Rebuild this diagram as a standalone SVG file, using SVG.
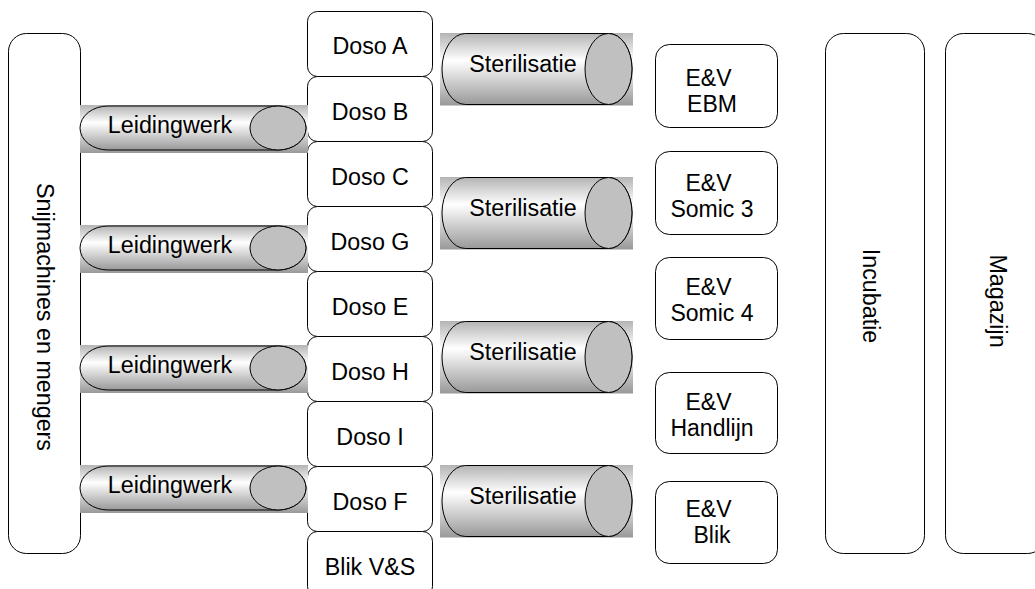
<svg xmlns="http://www.w3.org/2000/svg" width="1035" height="589" viewBox="0 0 1035 589">
<style>
.box{fill:#fff;stroke:#000;stroke-width:1}
.t{font-family:"Liberation Sans",Arial,sans-serif;font-size:23.3px;fill:#000;text-anchor:middle}
.e{font-size:23px}
.cyl{fill:url(#g);stroke:#000;stroke-width:1}
.bg{fill:url(#g);stroke:none}
.end{fill:#c0c0c0;stroke:#000;stroke-width:1}
</style>
<defs>
<linearGradient id="g" x1="0" y1="0" x2="0" y2="1">
<stop offset="0" stop-color="#b4b4b4"/>
<stop offset="0.38" stop-color="#ffffff"/>
<stop offset="1" stop-color="#999999"/>
</linearGradient>
</defs>
<rect width="1035" height="589" fill="#fff"/>
<g id="snijmachines">
<rect class="box" x="8.5" y="33.5" width="72" height="520" rx="18" ry="18"/>
<text class="t" transform="translate(37,317) rotate(90)">Snijmachines en mengers</text>
</g>
<g id="incubatie">
<rect class="box" x="825.5" y="33.5" width="99" height="520" rx="18" ry="18"/>
<text class="t" transform="translate(863,296) rotate(90)">Incubatie</text>
</g>
<g id="magazijn">
<rect class="box" x="945.5" y="33.5" width="100" height="520" rx="18" ry="18"/>
<text class="t" transform="translate(990,301) rotate(90)">Magazijn</text>
</g>
<g id="doso-a"><rect class="box" x="307.5" y="11.5" width="125" height="65" rx="10"/><text class="t" x="370" y="54">Doso A</text></g>
<g id="doso-b"><rect class="box" x="307.5" y="76.5" width="125" height="65" rx="10"/><text class="t" x="370" y="120">Doso B</text></g>
<g id="doso-c"><rect class="box" x="307.5" y="141.5" width="125" height="65" rx="10"/><text class="t" x="370" y="185">Doso C</text></g>
<g id="doso-g"><rect class="box" x="307.5" y="206.5" width="125" height="65" rx="10"/><text class="t" x="370" y="250">Doso G</text></g>
<g id="doso-e"><rect class="box" x="307.5" y="271.5" width="125" height="65" rx="10"/><text class="t" x="370" y="315">Doso E</text></g>
<g id="doso-h"><rect class="box" x="307.5" y="336.5" width="125" height="65" rx="10"/><text class="t" x="370" y="380">Doso H</text></g>
<g id="doso-i"><rect class="box" x="307.5" y="401.5" width="125" height="65" rx="10"/><text class="t" x="370" y="445">Doso I</text></g>
<g id="doso-f"><rect class="box" x="307.5" y="466.5" width="125" height="65" rx="10"/><text class="t" x="370" y="510">Doso F</text></g>
<g id="blik-vs"><rect class="box" x="307.5" y="531.5" width="125" height="65" rx="10"/><text class="t" x="370" y="575">Blik V&amp;S</text></g>
<g id="ev-ebm"><rect class="box" x="655.5" y="44.5" width="122" height="83" rx="14"/><text class="t e" x="708.5" y="86">E&amp;V</text><text class="t e" x="712" y="112">EBM</text></g>
<g id="ev-somic3"><rect class="box" x="655.5" y="151.5" width="122" height="83" rx="14"/><text class="t e" x="708.5" y="191">E&amp;V</text><text class="t e" x="712" y="217">Somic 3</text></g>
<g id="ev-somic4"><rect class="box" x="655.5" y="257.5" width="122" height="82" rx="14"/><text class="t e" x="708.5" y="295">E&amp;V</text><text class="t e" x="712" y="321">Somic 4</text></g>
<g id="ev-handlijn"><rect class="box" x="655.5" y="372.5" width="122" height="81" rx="14"/><text class="t e" x="708.5" y="410">E&amp;V</text><text class="t e" x="712" y="436">Handlijn</text></g>
<g id="ev-blik"><rect class="box" x="655.5" y="481.5" width="122" height="82" rx="14"/><text class="t e" x="708.5" y="517">E&amp;V</text><text class="t e" x="712" y="543">Blik</text></g>
<g id="leidingwerk-1" transform="translate(0,0)">
<rect class="bg" x="80" y="105" width="228" height="48"/>
<path class="cyl" d="M108,106 H278 A28 22 0 0 1 278 150 H108 A28 22 0 0 1 108 106 Z"/>
<ellipse class="end" cx="278" cy="128" rx="28" ry="22"/>
<text class="t" x="170" y="133">Leidingwerk</text>
</g>
<g id="leidingwerk-2" transform="translate(0,120)">
<rect class="bg" x="80" y="105" width="228" height="48"/>
<path class="cyl" d="M108,106 H278 A28 22 0 0 1 278 150 H108 A28 22 0 0 1 108 106 Z"/>
<ellipse class="end" cx="278" cy="128" rx="28" ry="22"/>
<text class="t" x="170" y="133">Leidingwerk</text>
</g>
<g id="leidingwerk-3" transform="translate(0,240)">
<rect class="bg" x="80" y="105" width="228" height="48"/>
<path class="cyl" d="M108,106 H278 A28 22 0 0 1 278 150 H108 A28 22 0 0 1 108 106 Z"/>
<ellipse class="end" cx="278" cy="128" rx="28" ry="22"/>
<text class="t" x="170" y="133">Leidingwerk</text>
</g>
<g id="leidingwerk-4" transform="translate(0,360)">
<rect class="bg" x="80" y="105" width="228" height="48"/>
<path class="cyl" d="M108,106 H278 A28 22 0 0 1 278 150 H108 A28 22 0 0 1 108 106 Z"/>
<ellipse class="end" cx="278" cy="128" rx="28" ry="22"/>
<text class="t" x="170" y="133">Leidingwerk</text>
</g>
<g id="sterilisatie-1" transform="translate(0,0)">
<rect class="bg" x="440" y="33" width="193" height="72.5"/>
<path class="cyl" d="M465.5,33.5 H608.5 A23.5 35.5 0 0 1 608.5 104.5 H465.5 A23.5 35.5 0 0 1 465.5 33.5 Z"/>
<ellipse class="end" cx="608.5" cy="69" rx="23.5" ry="35.5"/>
<text class="t" x="523" y="71.5">Sterilisatie</text>
</g>
<g id="sterilisatie-2" transform="translate(0,144)">
<rect class="bg" x="440" y="33" width="193" height="72.5"/>
<path class="cyl" d="M465.5,33.5 H608.5 A23.5 35.5 0 0 1 608.5 104.5 H465.5 A23.5 35.5 0 0 1 465.5 33.5 Z"/>
<ellipse class="end" cx="608.5" cy="69" rx="23.5" ry="35.5"/>
<text class="t" x="523" y="71.5">Sterilisatie</text>
</g>
<g id="sterilisatie-3" transform="translate(0,288)">
<rect class="bg" x="440" y="33" width="193" height="72.5"/>
<path class="cyl" d="M465.5,33.5 H608.5 A23.5 35.5 0 0 1 608.5 104.5 H465.5 A23.5 35.5 0 0 1 465.5 33.5 Z"/>
<ellipse class="end" cx="608.5" cy="69" rx="23.5" ry="35.5"/>
<text class="t" x="523" y="71.5">Sterilisatie</text>
</g>
<g id="sterilisatie-4" transform="translate(0,432)">
<rect class="bg" x="440" y="33" width="193" height="72.5"/>
<path class="cyl" d="M465.5,33.5 H608.5 A23.5 35.5 0 0 1 608.5 104.5 H465.5 A23.5 35.5 0 0 1 465.5 33.5 Z"/>
<ellipse class="end" cx="608.5" cy="69" rx="23.5" ry="35.5"/>
<text class="t" x="523" y="71.5">Sterilisatie</text>
</g>
<g id="connectors"/>
</svg>
